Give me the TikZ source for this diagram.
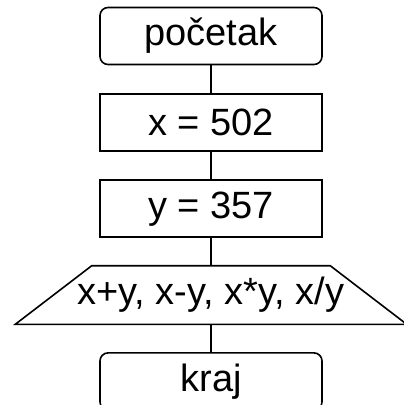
\documentclass[tikz,border=0pt]{standalone}
\usepackage{fontspec}
\setmainfont{Liberation Sans}
\usepackage{tikz}
\usetikzlibrary{positioning,calc}
\tikzset{
  korak/.style={draw,line width=1.6pt,minimum width=222pt,minimum height=57pt,inner sep=0pt,font=\fontsize{38}{44}\selectfont},
  terminal/.style={korak,rounded corners=8pt},
  izlaz/.style={korak,draw=none,minimum width=237pt},
  veza/.style={line width=1.6pt}
}

\begin{document}
\begin{tikzpicture}[node distance=27.75pt]
\useasboundingbox (0pt,0pt) rectangle (404pt,-405pt);
\node[terminal] (pocetak) at (211pt,-36pt) {početak};
\node[korak,below=of pocetak] (x) {x = 502};
\node[korak,below=of x] (y) {y = 357};
\node[izlaz,below=of y] (ispis) {\makebox[237pt]{x+y, x-y, x*y, x/y}};
\node[terminal,below=of ispis] (kraj) {kraj};
% obrub izlaza
\draw[veza] ($(ispis.south west)+(-76.5pt,0)$) -- (ispis.north west) -- (ispis.north east)
  -- ($(ispis.south east)+(76.5pt,0)$) -- cycle;
\draw[veza] (pocetak) -- (x);
\draw[veza] (x) -- (y);
\draw[veza] (y) -- (ispis);
\draw[veza] (ispis) -- (kraj);
\end{tikzpicture}
\end{document}
